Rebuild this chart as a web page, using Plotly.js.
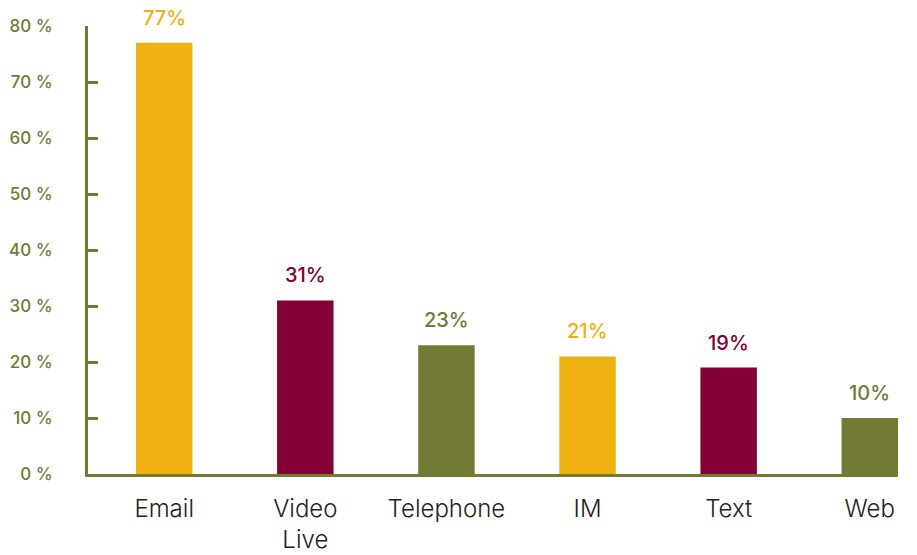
<!DOCTYPE html>
<html><head><meta charset="utf-8">
<script src="https://cdn.plot.ly/plotly-3.0.1.min.js"></script>
<style>html,body{margin:0;padding:0;background:#fff}#chart{width:917px;height:555px}</style>
</head><body><div id="chart"></div>
<script>
const categories = ["Email", "Video<br>Live", "Telephone", "IM", "Text", "Web"];
const values = [77, 31, 23, 21, 19, 10];
const valueLabels = ["77%", "31%", "23%", "21%", "19%", "10%"];
const barColors = ["#EFB112", "#850034", "#737A33", "#EFB112", "#850034", "#737A33"];
const yTickVals = [0, 10, 20, 30, 40, 50, 60, 70, 80];
const yTickText = ["0 %", "10 %", "20 %", "30 %", "40 %", "50 %", "60 %", "70 %", "80 %"];

const olive = "#737A33";
const trace = {
  type: "bar", x: categories, y: values, width: 0.4,
  marker: {color: barColors}, hoverinfo: "skip"
};
const annotations = categories.map((c, i) => ({
  x: c, y: values[i], text: valueLabels[i], showarrow: false,
  xref: "x", yref: "y", yanchor: "bottom", yshift: 11,
  font: {family: "Inter, 'Open Sans', sans-serif", size: 20, weight: 500, color: barColors[i]}
}));
const layout = {
  width: 917, height: 555,
  margin: {l: 88, r: 19, t: 26, b: 81},
  paper_bgcolor: "#fff", plot_bgcolor: "#fff",
  showlegend: false,
  xaxis: {
    type: "category", range: [-0.54, 5.2],
    showline: true, linecolor: olive, linewidth: 3,
    ticks: "", showgrid: false, zeroline: false,
    tickfont: {family: "Inter, 'DejaVu Sans', sans-serif", size: 24, weight: 300, color: "#222"},
    ticklabelstandoff: 11
  },
  yaxis: {
    range: [0, 80], tickvals: yTickVals, ticktext: yTickText,
    showline: true, linecolor: olive, linewidth: 3,
    ticks: "inside", ticklen: 10, tickwidth: 3, tickcolor: olive,
    showgrid: false, zeroline: false,
    tickfont: {family: "Inter, 'Open Sans', sans-serif", size: 17, weight: 500, color: olive},
    ticklabelstandoff: 29
  },
  annotations: annotations
};
Plotly.newPlot("chart", [trace], layout, {displayModeBar: false, staticPlot: true});
</script></body></html>
